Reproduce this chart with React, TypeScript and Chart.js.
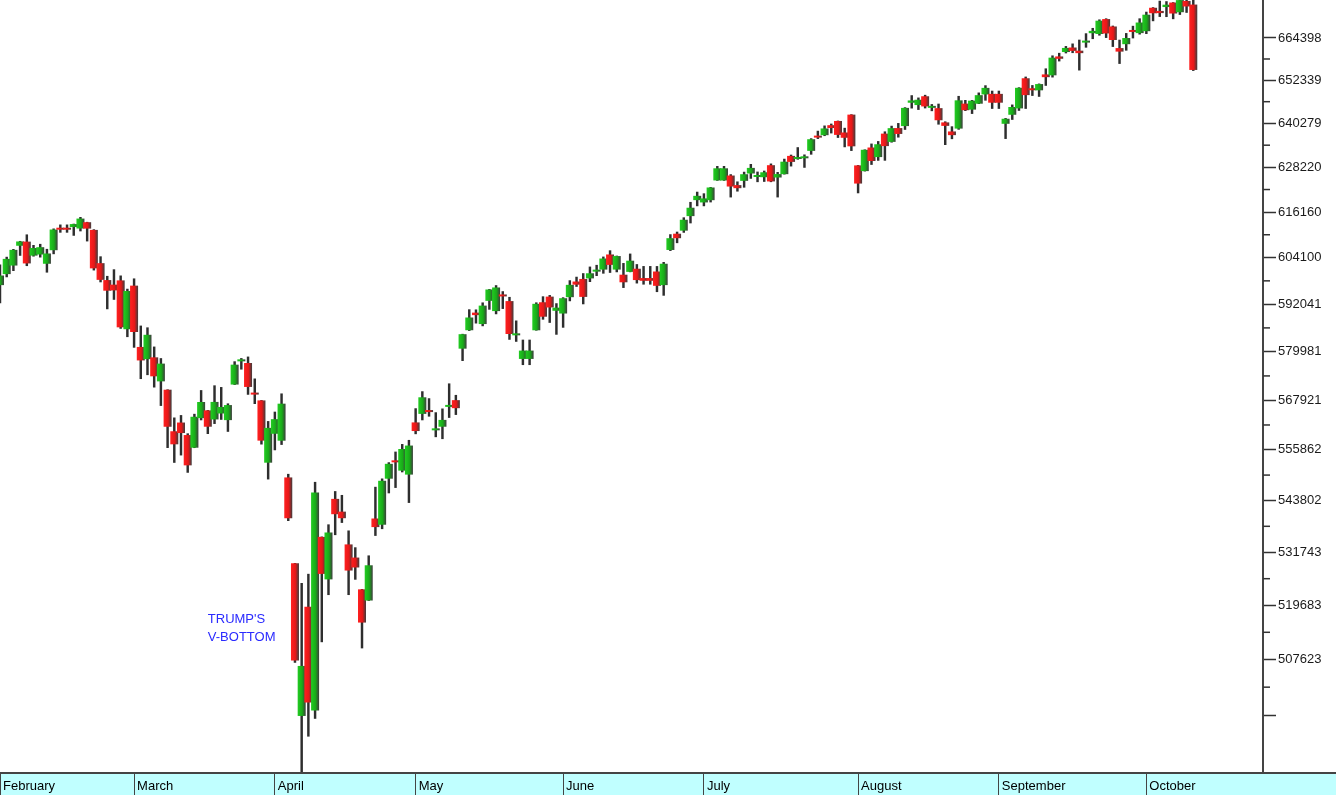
import React, { useEffect, useRef } from "react";
import { Chart, registerables } from "chart.js";

Chart.register(...registerables);

// ---- Month axis (index of the first trading day of each month) ----
const monthLabels = ["February", "March", "April", "May", "June", "July", "August", "September", "October"];
const monthStartIndex = [0, 20, 41, 62, 84, 105, 128, 149, 171];

// ---- Daily candles, 3 Feb 2025 .. 10 Oct 2025 (US holidays repeat the previous day) ----
const opens = [
  // Feb
  596965, 599814, 602045, 607222, 608313, 604640, 604932, 602508, 606059, 611552, 611552, 612160, 611776, 613450, 611410, 602669, 598273, 597087, 598188, 585674,
  // Mar
  596833, 581198, 578143, 578587, 572601, 570537, 560365, 562484, 559445, 556385, 563560, 565453, 563237, 564692, 563073, 571808, 577586, 577166, 569564, 567900, 552791,
  // Apr
  559753, 558076, 549274, 529214, 495379, 519357, 496528, 535315, 525556, 544196, 541199, 533575, 530545, 523294, 520767, 539592, 538138, 548973, 552922, 550887, 549944,
  // May
  562514, 564594, 565532, 560588, 561462, 566304, 567962, 580765, 585417, 589900, 586985, 592909, 590288, 594466, 592852, 584126, 578189, 578189, 585407, 592554, 593998, 590367,
  // Jun
  589668, 593856, 597894, 598567, 598706, 600460, 600991, 604938, 600990, 599668, 600400, 601215, 598793, 598793, 600492, 596967, 606121, 610406, 611214, 615070, 619336,
  // Jul
  618725, 619326, 624645, 624645, 625975, 623385, 624534, 626521, 625568, 625515, 628783, 625435, 626342, 631318, 630474, 630660, 632690, 636860, 637001, 639769, 640937, 637749, 642702,
  // Aug
  628728, 627171, 633613, 630991, 637432, 635158, 638967, 639517, 646015, 645364, 647832, 644581, 644506, 640544, 638034, 638822, 645767, 644096, 645748, 648340, 648500,
  // Sep
  648500, 640151, 642657, 644436, 652900, 649901, 649499, 653991, 653730, 659099, 660354, 661649, 660745, 663056, 665763, 665535, 669846, 667700, 661483, 662600, 666143, 665785,
  // Oct
  666340, 673131, 672214, 673341, 674653, 671838, 675129, 674065,
];

const highs = [
  602213, 604248, 606286, 608403, 610128, 607338, 607628, 606317, 611691, 612747, 612747, 612963, 614743, 613450, 611482, 604365, 599265, 600982, 599369, 595940,
  598609, 586508, 586059, 581208, 578301, 570537, 563630, 564219, 559778, 564527, 570352, 565453, 571533, 571115, 567084, 577514, 578314, 578695, 573228, 567900, 562756,
  565057, 569531, 550041, 529214, 524657, 526747, 548134, 535315, 538146, 545946, 545041, 536724, 532831, 523294, 530960, 546969, 548940, 552811, 555366, 557195, 558184,
  565891, 570070, 568348, 564910, 565830, 572010, 569168, 584419, 590663, 590622, 592421, 595862, 596861, 595306, 593837, 587808, 582951, 582951, 592433, 593992, 594313, 592214,
  593740, 598135, 599048, 599970, 601687, 602131, 604301, 605940, 604543, 602616, 605083, 602325, 601825, 601825, 601820, 602881, 610176, 610851, 614652, 618768, 621508,
  621078, 622760, 628465, 628465, 626233, 624276, 626906, 629022, 626944, 627204, 629143, 626834, 630446, 631561, 633608, 631612, 636064, 638131, 639582, 640107, 640937, 638947, 642702,
  628728, 632994, 634602, 635283, 637954, 639516, 640270, 644655, 648028, 647376, 648134, 645535, 645661, 640724, 639364, 647828, 646689, 646692, 648785, 650823, 649300,
  649300, 641654, 645418, 650254, 653265, 650872, 651308, 655597, 659286, 660021, 661967, 662699, 663805, 665639, 667182, 669641, 669953, 667846, 663792, 665706, 667797, 669958,
  671882, 673194, 675087, 674952, 674653, 675372, 675574, 676422,
];

const lows = [
  592393, 599087, 600706, 604683, 601996, 604484, 604234, 600300, 605100, 610762, 610762, 609951, 611115, 608459, 600856, 597783, 590849, 593269, 585878, 583766,
  581091, 573259, 574235, 571164, 566629, 556402, 552841, 554609, 550465, 556385, 563112, 559776, 562220, 563233, 560310, 571808, 575620, 569372, 567094, 557242, 548873,
  555852, 557148, 539083, 506990, 483504, 491042, 494843, 511527, 522077, 535802, 538644, 522079, 525558, 510163, 520767, 535625, 537196, 545586, 546864, 550570, 543324,
  559735, 563113, 564010, 559014, 558547, 563701, 564422, 577757, 585321, 587214, 586521, 590736, 589569, 590926, 583091, 582582, 576741, 576741, 585407, 588188, 587380, 584366,
  586143, 592900, 596611, 592120, 597863, 599418, 600026, 600232, 600388, 596321, 600400, 597480, 597189, 597189, 595256, 594323, 605950, 608004, 610745, 613235, 617797,
  617797, 618829, 624645, 624645, 620155, 621737, 622793, 625189, 624274, 624356, 624278, 620159, 626342, 628527, 630379, 628171, 631749, 636057, 636853, 637587, 636353, 633776, 632763,
  621269, 627171, 628962, 630087, 630099, 635064, 636447, 638576, 644502, 644107, 644535, 643756, 640022, 634385, 636006, 638613, 643806, 642989, 645748, 646696, 644400,
  644400, 636058, 641341, 643853, 644398, 648027, 647771, 650863, 653213, 657774, 660072, 660151, 655197, 661706, 664163, 665172, 664491, 661917, 657066, 660854, 664365, 665481,
  665620, 669323, 670567, 670530, 669917, 671164, 671757, 655078,
];

const closes = [
  599457, 603788, 606148, 608357, 602599, 606644, 606850, 605197, 611507, 611463, 611463, 612958, 614415, 611752, 601313, 598325, 595525, 595606, 586157, 595450,
  584972, 577815, 584263, 573852, 577020, 561456, 557207, 559930, 552152, 563894, 567512, 561466, 567529, 566289, 566756, 576757, 577665, 571220, 569331, 558094, 561185,
  563307, 567097, 539652, 507408, 506225, 498277, 545690, 526805, 536336, 540597, 539663, 527570, 528270, 515820, 528776, 537586, 548477, 552521, 552875, 556083, 556906,
  560414, 568667, 565038, 560691, 563128, 566394, 565991, 584419, 588655, 589258, 591693, 595838, 596360, 594046, 584461, 584201, 580282, 580282, 592154, 588855, 591217, 591169,
  593594, 597037, 597081, 593930, 600036, 600588, 603881, 602224, 604526, 597697, 603311, 598272, 598087, 598087, 596784, 602517, 609218, 609216, 614102, 617307, 620495,
  619801, 622742, 627935, 627935, 622998, 622552, 626326, 628046, 625975, 626856, 624376, 626370, 629736, 629679, 630560, 630962, 635891, 636335, 638864, 638977, 637086, 636290, 633939,
  623801, 632994, 629919, 634506, 634000, 638945, 637345, 644576, 646658, 646854, 644980, 644915, 641137, 639578, 637017, 646691, 643932, 646594, 648140, 650186, 646026,
  646026, 641554, 644826, 650208, 648150, 649515, 651261, 653204, 658747, 658429, 661528, 660676, 660035, 663196, 666436, 669375, 665692, 663797, 660472, 664370, 666121, 668846,
  671120, 671535, 671579, 674028, 671459, 675372, 673511, 655251,
];

// ---- Value axis ----
const yMajorTicks = [495563, 507623, 519683, 531743, 543802, 555862, 567921, 579981, 592041, 604100, 616160, 628220, 640279, 652339, 664398];
const yMajorLabels = ["", "507623", "519683", "531743", "543802", "555862", "567921", "579981", "592041", "604100", "616160", "628220", "640279", "652339", "664398"];
const yMinorTicks = [501593, 513653, 525713, 537772, 549832, 561891, 573951, 586011, 598070, 610130, 622190, 634249, 646309, 658368];
const yMin = 483504;
const yMax = 675400;
const xMin = 0;
const xMax = 188.4;

// ---- Annotation ----
const annotationLines = ["TRUMP'S", "V-BOTTOM"];
const annotationIndex = 31;
const annotationValue = 515800;

const FONT_FAMILY = '"Liberation Sans", Arial, Helvetica, sans-serif';
const BODY_W = 8;

export default function App() {
  const canvasRef = useRef<HTMLCanvasElement | null>(null);

  useEffect(() => {
    document.body.style.margin = "0";
    const canvas = canvasRef.current;
    if (!canvas) return;

    const isUp = (i: number) => closes[i] >= opens[i];
    const bodies = opens.map((o, i) => ({ x: i, y: [o, closes[i]] }));
    const wicks = lows.map((l, i) => ({ x: i, y: [l, highs[i]] }));

    const bodyFill = (c: any) => {
      const i = c.dataIndex;
      const up = typeof i === "number" ? isUp(i) : true;
      const solid = up ? "#1eb41e" : "#ee1a1a";
      if (c.type !== "data") return solid;
      const xs = c.chart && c.chart.scales ? c.chart.scales.x : null;
      if (!xs) return solid;
      const cx = xs.getPixelForValue(i);
      if (!Number.isFinite(cx)) return solid;
      const g = c.chart.ctx.createLinearGradient(cx - BODY_W / 2, 0, cx + BODY_W / 2, 0);
      if (up) {
        g.addColorStop(0, "#22cc22");
        g.addColorStop(0.55, "#19ab19");
        g.addColorStop(1, "#3c3c3c");
      } else {
        g.addColorStop(0, "#ff2020");
        g.addColorStop(0.55, "#e61818");
        g.addColorStop(1, "#3c3c3c");
      }
      return g;
    };

    const decorations = {
      id: "decorations",
      beforeDraw(chart: any) {
        const { ctx, chartArea, width, height } = chart;
        ctx.save();
        ctx.fillStyle = "#ffffff";
        ctx.fillRect(0, 0, width, height);
        ctx.fillStyle = "#c0ffff";
        ctx.fillRect(0, chartArea.bottom, width, height - chartArea.bottom);
        ctx.restore();
      },
      afterDatasetsDraw(chart: any) {
        const { ctx } = chart;
        const x = chart.scales.x.getPixelForValue(annotationIndex);
        const y = chart.scales.y.getPixelForValue(annotationValue);
        ctx.save();
        ctx.fillStyle = "#2a2aff";
        ctx.font = `13px ${FONT_FAMILY}`;
        ctx.textAlign = "left";
        ctx.textBaseline = "alphabetic";
        annotationLines.forEach((t, k) => ctx.fillText(t, x, y + k * 18));
        ctx.restore();
      },
      afterDraw(chart: any) {
        const { ctx, chartArea, width } = chart;
        const ys = chart.scales.y;
        ctx.save();
        ctx.strokeStyle = "#444444";
        ctx.lineWidth = 2;
        ctx.beginPath();
        ctx.moveTo(0, chartArea.bottom + 1);
        ctx.lineTo(width, chartArea.bottom + 1);
        ctx.stroke();
        ctx.strokeStyle = "#333333";
        ctx.lineWidth = 1.5;
        yMinorTicks.forEach((v) => {
          const py = ys.getPixelForValue(v);
          ctx.beginPath();
          ctx.moveTo(chartArea.right, py);
          ctx.lineTo(chartArea.right + 7, py);
          ctx.stroke();
        });
        ctx.restore();
      },
    };

    const chart = new Chart(canvas, {
      type: "bar",
      data: {
        datasets: [
          {
            label: "body",
            data: bodies as any,
            order: 0,
            grouped: false,
            backgroundColor: bodyFill as any,
            borderWidth: 0,
            categoryPercentage: 1,
            barPercentage: 1.3,
            maxBarThickness: BODY_W,
            minBarLength: 2,
          } as any,
          {
            label: "wick",
            data: wicks as any,
            order: 1,
            grouped: false,
            backgroundColor: "#2e2e2e",
            borderWidth: 0,
            categoryPercentage: 1,
            barPercentage: 1,
            maxBarThickness: 1.8,
          } as any,
        ],
      },
      options: {
        responsive: false,
        maintainAspectRatio: false,
        animation: false,
        events: [],
        layout: { padding: 0 },
        plugins: {
          legend: { display: false },
          tooltip: { enabled: false },
        },
        scales: {
          x: {
            type: "linear",
            position: "bottom",
            offset: false,
            min: xMin,
            max: xMax,
            bounds: "data",
            afterBuildTicks: (scale: any) => {
              scale.ticks = monthStartIndex.map((v) => ({ value: v }));
            },
            afterFit: (scale: any) => {
              scale.height = 23;
              scale.paddingLeft = 0;
              scale.paddingRight = 0;
            },
            border: { display: false },
            grid: {
              offset: false,
              drawOnChartArea: false,
              drawTicks: true,
              tickLength: 23,
              tickColor: "#444444",
              tickWidth: 1,
            },
            ticks: {
              autoSkip: false,
              maxRotation: 0,
              minRotation: 0,
              align: "start",
              labelOffset: 3,
              padding: -16,
              color: "#000000",
              font: { family: FONT_FAMILY, size: 13 },
              callback: (_v: any, index: number) => monthLabels[index] ?? "",
            },
          } as any,
          y: {
            type: "logarithmic",
            position: "right",
            offset: false,
            min: yMin,
            max: yMax,
            bounds: "data",
            afterBuildTicks: (scale: any) => {
              scale.ticks = yMajorTicks.map((v) => ({ value: v }));
            },
            afterFit: (scale: any) => {
              scale.width = 73;
              scale.paddingTop = 0;
              scale.paddingBottom = 0;
            },
            border: { display: true, color: "#444444", width: 2 },
            grid: {
              drawOnChartArea: false,
              drawTicks: true,
              tickLength: 13,
              tickColor: "#333333",
              tickWidth: 1.5,
            },
            ticks: {
              autoSkip: false,
              padding: 2,
              color: "#1a1a1a",
              font: { family: FONT_FAMILY, size: 13 },
              callback: (_v: any, index: number) => yMajorLabels[index] ?? "",
            },
          } as any,
        },
      },
      plugins: [decorations as any],
    });

    return () => chart.destroy();
  }, []);

  return (
    <div style={{ width: 1336, height: 795, position: "relative" }}>
      <canvas ref={canvasRef} width={1336} height={795} style={{ display: "block" }} />
    </div>
  );
}
